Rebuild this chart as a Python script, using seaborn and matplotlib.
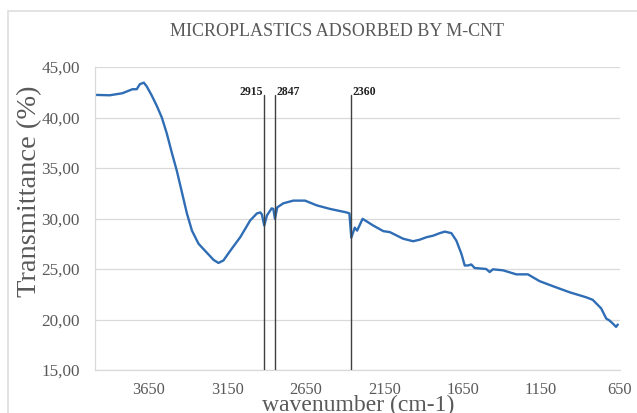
import numpy as np
import pandas as pd
import matplotlib
matplotlib.use("Agg")
import matplotlib.pyplot as plt
import matplotlib.patches as patches
import seaborn as sns

wavenumber = [3994, 3900, 3820, 3755, 3728, 3708, 3683, 3665, 3633, 3600,
              3568, 3536, 3504, 3472, 3440, 3408, 3376, 3334, 3280, 3238,
              3207, 3175, 3132, 3068, 3005, 2962, 2940, 2930, 2915, 2898,
              2868, 2857, 2847, 2832, 2794, 2730, 2655, 2580, 2496, 2390,
              2372, 2360, 2338, 2323, 2288, 2220, 2156, 2114, 2030, 1966,
              1924, 1880, 1838, 1796, 1764, 1722, 1690, 1658, 1637, 1616,
              1595, 1574, 1500, 1478, 1457, 1393, 1308, 1234, 1160, 1075,
              969, 863, 821, 767, 735, 714, 693, 672, 661]
transmittance = [42.24, 42.2, 42.4, 42.8, 42.8, 43.3, 43.45, 43.1, 42.2, 41.15,
                 40.0, 38.4, 36.5, 34.7, 32.6, 30.5, 28.8, 27.5, 26.6, 25.9,
                 25.6, 25.85, 26.8, 28.15, 29.8, 30.5, 30.6, 30.4, 29.3, 30.3,
                 31.0, 30.95, 29.97, 31.1, 31.5, 31.77, 31.77, 31.3, 30.95, 30.6,
                 30.5, 28.1, 29.1, 28.8, 29.97, 29.3, 28.75, 28.65, 28.0, 27.75,
                 27.9, 28.15, 28.3, 28.55, 28.7, 28.55, 27.8, 26.5, 25.35, 25.35,
                 25.45, 25.1, 25.0, 24.7, 24.97, 24.87, 24.47, 24.47, 23.8, 23.3,
                 22.7, 22.2, 21.95, 21.1, 20.1, 19.9, 19.6, 19.27, 19.5]
peaks = [2915, 2847, 2360]
peak_labels = ["2915", "2847", "2360"]
xticks = [3650, 3150, 2650, 2150, 1650, 1150, 650]
yticks = [15, 20, 25, 30, 35, 40, 45]

sns.set_theme(style="white")
plt.rcParams['font.family'] = ['Liberation Serif', 'DejaVu Serif']

W, H = 637, 413
fig = plt.figure(figsize=(W / 100, H / 100), dpi=100)
ax = fig.add_axes([95 / W, 1 - 370 / H, (620 - 95) / W, (370 - 67) / H])

# chart-area frame
fig.patches.append(patches.Rectangle((8 / W, -0.1), 1.2, 1 - 11 / H + 0.1,
                                     transform=fig.transFigure, fill=False,
                                     edgecolor='#dedede', linewidth=1.2))

df = pd.DataFrame({"wavenumber": wavenumber, "T": transmittance})
sns.lineplot(data=df, x="wavenumber", y="T", ax=ax, color="#2F6DB5",
             linewidth=1.7, sort=False)

ax.set_xlim(3994, 647)
ax.set_ylim(15, 45)
ax.set_xticks(xticks)
ax.set_xticklabels([str(t) for t in xticks])
ax.set_yticks(yticks)
ax.set_yticklabels([f"{t:.2f}".replace('.', ',') for t in yticks])
ax.tick_params(axis='x', labelsize=11.8, colors='#595959', length=0, pad=9)
ax.tick_params(axis='y', labelsize=12.3, colors='#595959', length=0, pad=11)

ax.grid(axis='y', color='#d9d9d9', linewidth=0.9)
ax.grid(axis='x', visible=False)
for s in ['top', 'right']:
    ax.spines[s].set_visible(False)
for s in ['left', 'bottom']:
    ax.spines[s].set_color('#d9d9d9')
    ax.spines[s].set_linewidth(0.9)

# peak markers
for p, lab in zip(peaks, peak_labels):
    ax.plot([p, p], [15, 42.2], color='#404040', linewidth=1.0, zorder=3)
    if lab == "2915":
        ax.text(p + 8, 42.55, lab, ha='right', va='center', fontsize=8.5,
                fontweight='bold', color='#222222')
    else:
        ax.text(p - 8, 42.55, lab, ha='left', va='center', fontsize=8.5,
                fontweight='bold', color='#222222')

ax.set_xlabel("wavenumber (cm-1)", fontsize=17, color='#595959')
ax.set_ylabel("Transmittance (%)", fontsize=20.5, color='#595959')
ax.xaxis.set_label_coords((358 - 95) / 525, (370 - 405) / 303)
ax.xaxis.label.set_va('center')
ax.yaxis.set_label_coords((30 - 95) / 525, (370 - 191) / 303)
ax.yaxis.label.set_va('center')

fig.text(337 / W, 1 - 32 / H, "MICROPLASTICS ADSORBED BY M-CNT", ha='center',
         va='center', fontsize=13, color='#595959')

fig.savefig("out.png", dpi=100)
